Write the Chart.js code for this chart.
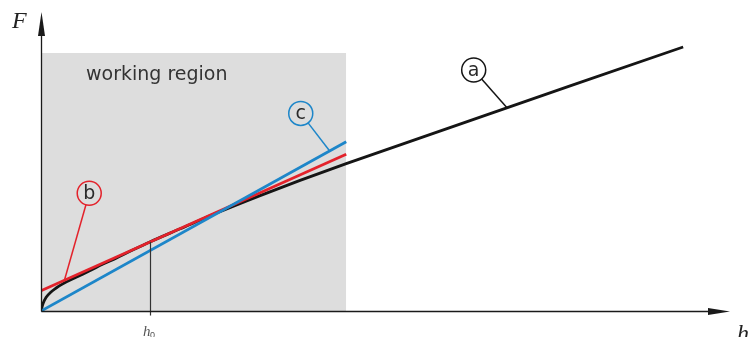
<!DOCTYPE html>
<html lang="en">
<head>
    <meta charset="UTF-8">
    <title>Force vs. displacement – working region</title>
    <style>
        body {
            margin: 0;
            padding: 0;
            background-color: #fff;
        }
        #wrap {
            width: 749px;
            height: 337px;
        }
    </style>
    <script src="https://cdn.jsdelivr.net/npm/chart.js"></script>
</head>
<body>
    <div id="wrap">
        <canvas id="forceChart" width="749" height="337"></canvas>
    </div>
    <script>
        // Curve (a): measured characteristic F(h)
        const curveH = [0, 0.3, 0.75, 1.45, 2.2, 3.1, 5.1, 7.0, 9.0, 10.9, 13.3, 15.8, 20.2, 25.3, 31.8, 37.6, 44.3, 93.2];
        const curveF = [0, 2.5, 4.6, 6.4, 7.7, 9.0, 11.3, 13.4, 15.7, 17.7, 20.4, 23.1, 27.5, 32.6, 38.6, 43.7, 49.3, 88.3];

        // Line (b): tangent at h0
        const tangentH = [0, 44.3];
        const tangentF = [6.8, 52.4];

        // Line (c): secant through the origin
        const secantH = [0, 44.3];
        const secantF = [0, 56.6];

        // Working region bounds and operating point
        const regionH = [0, 44.3];
        const regionF = [86.3, 86.3];
        const h0 = 15.8;
        const h0F = 23.1;

        // Callout labels: letter, circle centre, point on the curve
        const calloutNames = ['a', 'b', 'c'];
        const calloutCentre = [[62.8, 80.6], [7.0, 39.4], [37.7, 66.1]];
        const calloutTarget = [[67.6, 68.1], [3.4, 10.3], [41.9, 53.5]];

        const BLACK = '#151515';
        const RED = '#e3222b';
        const BLUE = '#1d86c9';
        const calloutColors = [BLACK, RED, BLUE];

        const pts = (xs, ys) => xs.map((x, i) => ({ x: x, y: ys[i] }));

        // Axes, arrows, h0 marker, callouts and labels
        const decorations = {
            id: 'decorations',
            afterDatasetsDraw(chart) {
                const ctx = chart.ctx;
                const xs = chart.scales.x;
                const ys = chart.scales.y;
                const px = v => xs.getPixelForValue(v);
                const py = v => ys.getPixelForValue(v);

                ctx.save();

                // h0 marker line
                ctx.strokeStyle = '#333';
                ctx.lineWidth = 1.2;
                ctx.beginPath();
                ctx.moveTo(Math.round(px(h0)) + 0.5, py(h0F));
                ctx.lineTo(Math.round(px(h0)) + 0.5, py(-1.5));
                ctx.stroke();

                // axes
                const ox = Math.round(px(0)) + 0.5;
                const oy = Math.round(py(0)) + 0.5;
                ctx.strokeStyle = '#1a1a1a';
                ctx.lineWidth = 1.3;
                ctx.beginPath();
                ctx.moveTo(ox, oy);
                ctx.lineTo(ox, py(100) + 12);
                ctx.moveTo(ox, oy);
                ctx.lineTo(px(100) - 12, oy);
                ctx.stroke();

                ctx.fillStyle = '#1a1a1a';
                ctx.beginPath();
                ctx.moveTo(ox, py(100));
                ctx.lineTo(ox - 3.5, py(100) + 24);
                ctx.lineTo(ox + 3.5, py(100) + 24);
                ctx.closePath();
                ctx.fill();
                ctx.beginPath();
                ctx.moveTo(px(100), oy);
                ctx.lineTo(px(100) - 22, oy - 3.5);
                ctx.lineTo(px(100) - 22, oy + 3.5);
                ctx.closePath();
                ctx.fill();

                // callouts
                calloutNames.forEach((name, i) => {
                    const cx = px(calloutCentre[i][0]);
                    const cy = py(calloutCentre[i][1]);
                    const tx = px(calloutTarget[i][0]);
                    const ty = py(calloutTarget[i][1]);
                    const r = 12;
                    const ang = Math.atan2(ty - cy, tx - cx);
                    ctx.strokeStyle = calloutColors[i];
                    ctx.lineWidth = 1.5;
                    ctx.beginPath();
                    ctx.arc(cx, cy, r, 0, Math.PI * 2);
                    ctx.stroke();
                    ctx.beginPath();
                    ctx.moveTo(cx + r * Math.cos(ang), cy + r * Math.sin(ang));
                    ctx.lineTo(tx, ty);
                    ctx.stroke();
                    ctx.fillStyle = '#2a2a2a';
                    ctx.font = '19px "DejaVu Sans", sans-serif';
                    ctx.textAlign = 'center';
                    ctx.textBaseline = 'middle';
                    ctx.fillText(name, cx, cy + 1);
                });

                // region label
                ctx.fillStyle = '#333';
                ctx.font = '19px "DejaVu Sans", sans-serif';
                ctx.textAlign = 'left';
                ctx.textBaseline = 'alphabetic';
                ctx.fillText('working region', 86, 80);

                // axis titles
                ctx.fillStyle = '#222';
                ctx.font = 'italic 24px "Liberation Serif", "DejaVu Serif", serif';
                ctx.fillText('F', 12, 28);
                ctx.fillText('h', 737, 341);

                ctx.fillStyle = '#555';
                ctx.font = 'italic 15px "Liberation Serif", serif';
                ctx.fillText('h', 143, 336);
                ctx.font = '9px "Liberation Sans", sans-serif';
                ctx.fillText('0', 150, 338);

                ctx.restore();
            }
        };

        new Chart(document.getElementById('forceChart'), {
            type: 'line',
            data: {
                datasets: [
                    {
                        label: 'c',
                        data: pts(secantH, secantF),
                        borderColor: BLUE,
                        borderWidth: 2.8,
                        pointRadius: 0,
                        fill: false
                    },
                    {
                        label: 'b',
                        data: pts(tangentH, tangentF),
                        borderColor: RED,
                        borderWidth: 2.8,
                        pointRadius: 0,
                        fill: false
                    },
                    {
                        label: 'a',
                        data: pts(curveH, curveF),
                        borderColor: BLACK,
                        borderWidth: 2.8,
                        pointRadius: 0,
                        cubicInterpolationMode: 'monotone',
                        fill: false
                    },
                    {
                        label: 'working region',
                        data: pts(regionH, regionF),
                        borderWidth: 0,
                        borderColor: 'rgba(0,0,0,0)',
                        backgroundColor: '#dddddd',
                        pointRadius: 0,
                        fill: 'origin'
                    }
                ]
            },
            options: {
                responsive: false,
                animation: false,
                layout: {
                    padding: { left: 41, right: 19, top: 12, bottom: 11 }
                },
                plugins: {
                    legend: { display: false },
                    tooltip: { enabled: false }
                },
                scales: {
                    x: { type: 'linear', min: 0, max: 100, display: false },
                    y: { type: 'linear', min: -5, max: 100, display: false }
                }
            },
            plugins: [decorations]
        });
    </script>
</body>
</html>
